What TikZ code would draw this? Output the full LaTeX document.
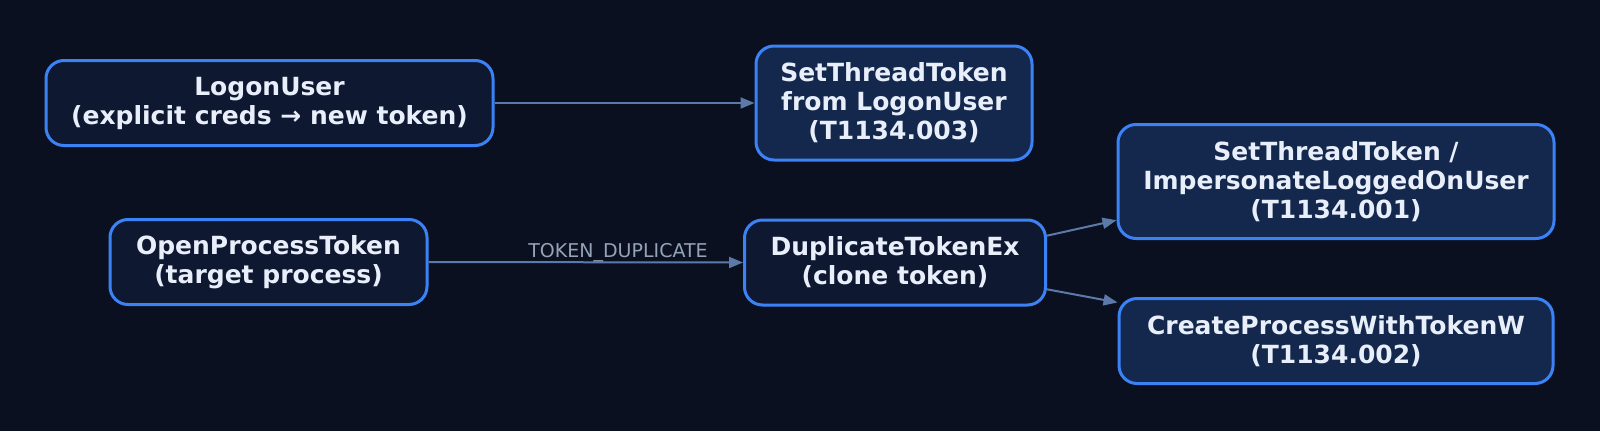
\documentclass[tikz,border=0pt]{standalone}
\usepackage{fontspec}
\setmainfont{DejaVu Sans}
\usetikzlibrary{arrows.meta}
\definecolor{bgcol}{HTML}{0B1020}
\definecolor{srcfill}{HTML}{0E1830}
\definecolor{tgtfill}{HTML}{13284C}
\definecolor{nodeborder}{HTML}{3B82F6}
\definecolor{nodetext}{HTML}{E8EEFA}
\definecolor{edgecol}{HTML}{5B7AAA}
\definecolor{labelcol}{HTML}{94A3B8}
\begin{document}
\begin{tikzpicture}[x=1pt,y=-1pt,
  box/.style={draw=nodeborder, line width=3pt, rounded corners=18pt, fill=srcfill,
    text=nodetext, font=\fontsize{25}{29}\selectfont\bfseries, align=center,
    inner sep=0pt, minimum height=85pt},
  tgt/.style={box, fill=tgtfill},
  conn/.style={draw=edgecol, line width=2pt, -{Triangle[length=14pt,width=11pt]}},
  elabel/.style={text=labelcol, font=\fontsize{19}{22}\selectfont, inner sep=0pt}
]
\fill[bgcol] (0,0) rectangle (1600,431);
\useasboundingbox (0,0) rectangle (1600,431);

\node[box, minimum width=447pt] (logon) at (269.5,103) {LogonUser\\(explicit creds → new token)};
\node[tgt, minimum width=276pt, minimum height=114pt] (stt3) at (894,103) {SetThreadToken\\from LogonUser\\(T1134.003)};
\node[box, minimum width=317pt] (opt) at (268.5,262) {OpenProcessToken\\(target process)};
\node[box, minimum width=301pt] (dup) at (895,262.5) {DuplicateTokenEx\\(clone token)};
\node[tgt, minimum width=436pt, minimum height=114pt] (stt1) at (1336,181.5) {SetThreadToken /\\ImpersonateLoggedOnUser\\(T1134.001)};
\node[tgt, minimum width=434pt] (cpw) at (1336,341) {CreateProcessWithTokenW\\(T1134.002)};

\draw[conn] (logon.east) -- (stt3.west);
\draw[conn] (opt.east) -- (dup.west);
\node[elabel, anchor=base] (lbl) at (618,257.5) {TOKEN\_DUPLICATE};
\draw[conn] (dup.10) -- (stt1.190);
\draw[conn] (dup.-10) -- (cpw.170);
\end{tikzpicture}
\end{document}
